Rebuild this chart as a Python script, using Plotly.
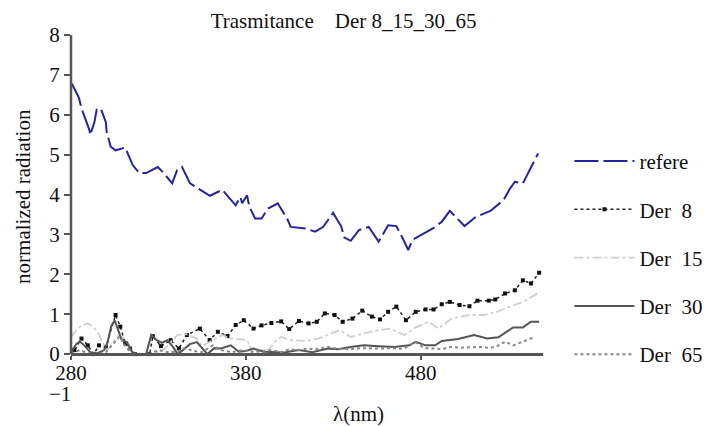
import plotly.graph_objects as go

# ---- data ----
ref_x = [280.5, 284.5, 286, 290.6, 291, 293.4, 294.7, 297, 299.9, 300.4, 302.7, 305.5, 311, 315.3, 319, 323,
         329.6, 332.4, 337.9, 340.7, 343.5, 348.1, 352.8, 359.5, 366.5, 374.2, 376.9, 377.9, 380.7, 382.1,
         385.3, 389, 392.7, 398.3, 403.8, 405.7, 414.1, 419.7, 424.3, 429.9, 434.5, 436.4, 440, 444.7, 450.3,
         456, 461.4, 466.1, 469.8, 472.9, 475.4, 481.8, 487, 492.1, 496.7, 505.1, 511.6, 519.9, 527.4, 531.1,
         533.9, 538.5, 543.1, 547.2]
ref_y = [6.78, 6.43, 6.16, 5.61, 5.49, 5.82, 6.13, 6.16, 5.82, 5.57, 5.2, 5.11, 5.18, 4.74, 4.54, 4.54,
         4.69, 4.57, 4.28, 4.61, 4.69, 4.28, 4.15, 3.97, 4.12, 3.73, 3.94, 3.78, 3.98, 3.69,
         3.40, 3.40, 3.65, 3.78, 3.38, 3.19, 3.15, 3.07, 3.19, 3.54, 3.21, 2.92, 2.84, 3.11, 3.19,
         2.82, 3.23, 3.21, 2.90, 2.61, 2.87, 3.02, 3.15, 3.32, 3.59, 3.21, 3.44, 3.59, 3.86, 4.15,
         4.32, 4.28, 4.69, 5.03]

d8_x = [280, 282, 286, 289.6, 293, 296, 299.9, 305.5, 308.2, 311, 313.8, 316.6, 325, 326.8, 331.4, 337,
        341.7, 346.3, 353.7, 359.3, 364, 369.5, 374.2, 378.8, 384.4, 389, 394.6, 400.2, 404.8, 410.4,
        415.9, 420.6, 425.2, 430.8, 435.4, 441, 446.6, 452.1, 456.8, 461.4, 466.1, 471.6, 477.2, 482.8,
        487.4, 492.1, 496.7, 502.3, 507.9, 512.5, 519, 522.7, 528.3, 533.9, 538.5, 543.1, 547.8]
d8_y = [0.0, 0.1, 0.39, 0.22, 0.0, 0.22, 0.18, 0.98, 0.69, 0.27, 0.14, 0.0, 0.0, 0.45, 0.2, 0.35,
        0.14, 0.48, 0.64, 0.35, 0.56, 0.45, 0.73, 0.85, 0.64, 0.72, 0.78, 0.82, 0.63, 0.83,
        0.77, 0.81, 1.02, 0.98, 0.81, 0.89, 1.09, 0.94, 0.87, 1.06, 1.19, 0.85, 1.06, 1.12,
        1.12, 1.25, 1.31, 1.23, 1.2, 1.34, 1.34, 1.37, 1.52, 1.6, 1.85, 1.77, 2.04]

d15_x = [280, 283, 286, 289.6, 292, 295.2, 298, 300.8, 304, 307, 311, 314, 318, 324, 330, 334, 338, 341,
         346, 351.9, 355, 359.3, 363, 366.7, 370, 376, 380.7, 383.4, 389, 393, 397.4, 400.2, 405.7, 414.1,
         421.5, 427.1, 433.6, 440, 447.5, 456, 462.3, 470.7, 477.2, 484.6, 490.2, 497.7, 507.9, 516.2,
         523.6, 531.1, 538.5, 546.9]
d15_y = [0.43, 0.6, 0.72, 0.77, 0.7, 0.56, 0.3, 0.1, 0.3, 0.45, 0.39, 0.1, 0.0, 0.0, 0.05, 0.15, 0.35, 0.48,
         0.5, 0.39, 0.2, 0.31, 0.4, 0.48, 0.4, 0.37, 0.35, 0.12, 0.1, 0.1, 0.35, 0.43, 0.35, 0.33,
         0.39, 0.48, 0.6, 0.43, 0.52, 0.6, 0.64, 0.48, 0.67, 0.81, 0.64, 0.89, 0.98, 0.98,
         1.06, 1.19, 1.31, 1.52]

d30_x = [280, 283, 285, 288, 291, 295, 299, 301, 303, 305, 307, 309, 312, 315, 318, 323, 325.9, 329, 332,
         335, 338, 341, 344, 348, 352, 355, 358, 362, 365.8, 371.4, 376, 380, 384.4, 390, 396, 402, 410.4,
         418, 427, 433, 440, 447.5, 456, 465, 473.5, 477.2, 482.8, 488.3, 492.1, 501.4, 510.6, 518, 524.5,
         530.1, 532.9, 538.5, 543.1, 547.8]
d30_y = [0.05, 0.25, 0.32, 0.2, 0.05, 0.02, 0.1, 0.3, 0.7, 0.85, 0.6, 0.35, 0.3, 0.05, 0.0, 0.0, 0.48, 0.35, 0.28,
         0.35, 0.2, 0.0, 0.1, 0.25, 0.3, 0.15, 0.0, 0.15, 0.14, 0.22, 0.06, 0.08, 0.14, 0.06, 0.05, 0.04, 0.1,
         0.05, 0.14, 0.12, 0.18, 0.22, 0.2, 0.18, 0.22, 0.31, 0.22, 0.22, 0.33, 0.38, 0.48, 0.39, 0.42,
         0.6, 0.67, 0.67, 0.81, 0.81]

d65_x = [280, 285, 290, 295, 300, 305, 308, 311, 315, 325, 330, 335, 340, 345, 350, 355, 361, 366, 372, 378,
         385, 390, 395, 400, 405, 410, 415, 420, 427, 432, 440, 446, 452, 458, 463, 470, 477, 482, 488, 492,
         497, 503, 508, 514, 519, 523, 528.3, 533, 539.4, 545]
d65_y = [0.02, 0.1, 0.02, 0.0, 0.05, 0.3, 0.45, 0.2, 0.0, 0.0, 0.1, 0.05, 0.05, 0.15, 0.08, 0.05, 0.22, 0.1, 0.05, 0.1,
         0.05, 0.08, 0.1, 0.05, 0.12, 0.1, 0.14, 0.12, 0.18, 0.14, 0.12, 0.15, 0.14, 0.14, 0.15, 0.13, 0.3, 0.15, 0.14, 0.12,
         0.18, 0.16, 0.17, 0.18, 0.16, 0.18, 0.31, 0.22, 0.33, 0.42]

x_ticks = [280, 380, 480]
y_ticks = [0, 1, 2, 3, 4, 5, 6, 7, 8]
names = ["refere", "Der\u00a0\u00a08", "Der\u00a0\u00a015", "Der\u00a0\u00a030", "Der\u00a0\u00a065"]

FONT = "Times New Roman, Liberation Serif, Noto Serif, DejaVu Serif, serif"
AX = "#555555"
FS = 21

fig = go.Figure()
fig.add_trace(go.Scatter(x=ref_x, y=ref_y, mode="lines", name=names[0], legendgroup="a",
                         line=dict(color="#24249c", width=2, dash="24px,5px")))
fig.add_trace(go.Scatter(x=d8_x, y=d8_y, mode="lines+markers", name=names[1], legendgroup="b",
                         line=dict(color="#222222", width=1.5, dash="dot"),
                         marker=dict(symbol="square", size=4, color="#111111")))
fig.add_trace(go.Scatter(x=d15_x, y=d15_y, mode="lines", name=names[2], legendgroup="c",
                         line=dict(color="#cfcfcf", width=1.8, dash="dashdot")))
fig.add_trace(go.Scatter(x=d30_x, y=d30_y, mode="lines", name=names[3], legendgroup="d",
                         line=dict(color="#555555", width=2)))
fig.add_trace(go.Scatter(x=d65_x, y=d65_y, mode="lines", name=names[4], legendgroup="e",
                         line=dict(color="#888888", width=2, dash="dot")))

# the page body adds an 8px offset, so the figure is 8px smaller on each side used
fig.update_layout(
    width=711, height=418,
    margin=dict(l=63, r=164, t=27, b=32),
    paper_bgcolor="white", plot_bgcolor="white",
    font=dict(family=FONT, size=FS, color="#111111"),
    title=dict(text="Trasmitance\u00a0\u00a0\u00a0\u00a0Der 8_15_30_65", x=0.472, xanchor="center",
               y=0.97, yanchor="middle", font=dict(family=FONT, size=FS)),
    showlegend=True,
    legend=dict(x=1.056, xanchor="left", y=0.705, yanchor="top", tracegroupgap=18,
                itemwidth=60, font=dict(family=FONT, size=FS), bgcolor="rgba(0,0,0,0)"),
    xaxis=dict(range=[280, 550], tickvals=x_ticks, ticks="outside", ticklen=4, tickwidth=2,
               tickcolor=AX, showline=True, linecolor=AX, linewidth=2.5, showgrid=False,
               zeroline=False, anchor="free", position=1/9, ticklabelstandoff=-5,
               tickfont=dict(family=FONT, size=FS)),
    yaxis=dict(range=[-1, 8], tickvals=y_ticks, ticks="outside", ticklen=6, tickwidth=2,
               tickcolor=AX, showline=False, showgrid=False, zeroline=False,
               tickfont=dict(family=FONT, size=FS)),
)
fig.add_shape(type="line", xref="paper", yref="y", x0=0, x1=0, y0=0, y1=8,
              line=dict(color=AX, width=2.5))
fig.add_annotation(text="\u22121", xref="paper", yref="y", x=0.005, y=-1, xanchor="right",
                   yanchor="middle", showarrow=False, font=dict(family=FONT, size=FS))
fig.add_annotation(text="\u03bb(nm)", xref="paper", yref="paper", x=0.61, y=-0.055,
                   xanchor="center", yanchor="middle", showarrow=False, font=dict(family=FONT, size=FS))
fig.add_annotation(text="normalized radiation", xref="paper", yref="paper", x=-0.103,
                   y=0.55, xanchor="center", yanchor="middle", textangle=-90, showarrow=False,
                   font=dict(family=FONT, size=FS))

fig.write_html("out.html")
